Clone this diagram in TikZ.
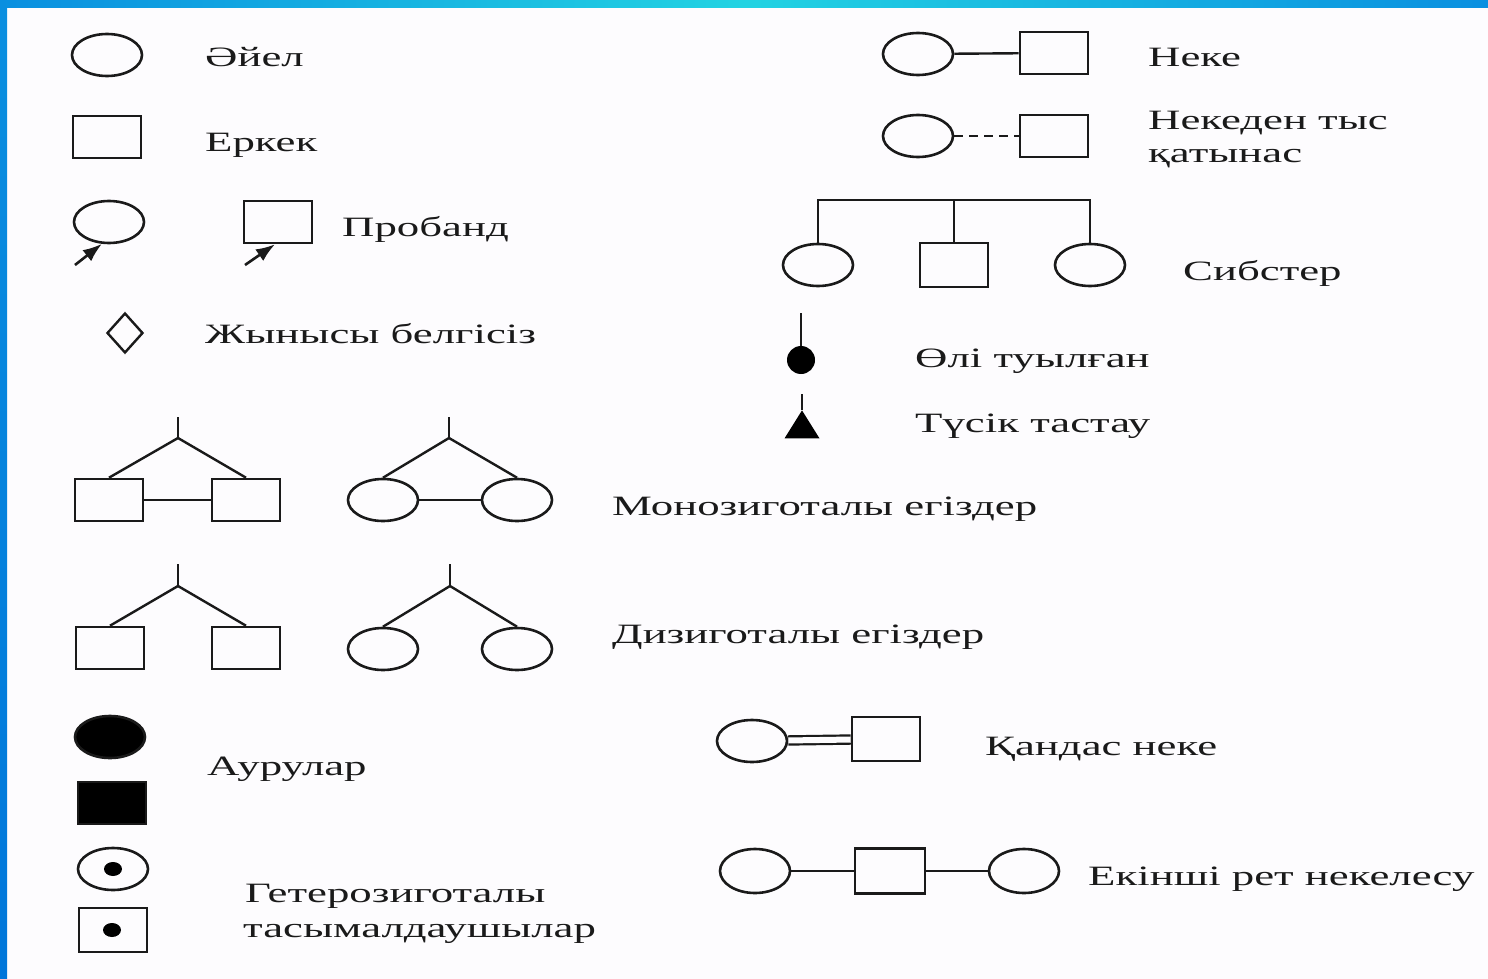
\documentclass[tikz,border=0pt]{standalone}
\usepackage{fontspec}
\setmainfont[FakeStretch=1.6]{Liberation Serif}
\usetikzlibrary{shapes.geometric,arrows.meta}
\definecolor{bandblue}{HTML}{0A8FE0}
\definecolor{bandcyan}{HTML}{22D3E2}
\definecolor{bandlow}{HTML}{0076DA}
\definecolor{paper}{HTML}{FDFCFE}
\definecolor{ink}{HTML}{1A1A1A}
\begin{document}
\begin{tikzpicture}[x=1pt,y=-1pt,
  fem/.style={ellipse,draw=ink,minimum width=70pt,minimum height=42pt,inner sep=0pt,line width=2.6pt},
  mal/.style={rectangle,draw=ink,minimum width=68pt,minimum height=42pt,inner sep=0pt,line width=2.6pt},
  femfill/.style={fem,fill=black},
  malfill/.style={mal,fill=black},
  lbl/.style={anchor=base west,font=\fontsize{28}{32}\selectfont,text=ink,inner sep=0pt},
  probarrow/.style={draw=ink,-{Latex[length=19pt,width=14pt]},line width=2.6pt},
  link/.style={draw=ink,line width=2.4pt},
  carrier/.style={ellipse,fill=black,minimum width=18pt,minimum height=14pt,inner sep=0pt}
]
\useasboundingbox (0,0) rectangle (1488,979);
\fill[paper] (0,0) rectangle (1488,979);
% borders
\shade[top color=bandblue,bottom color=bandlow] (0,0) rectangle (7,979);
\shade[left color=bandblue,right color=bandblue,middle color=bandcyan] (0,0) rectangle (1488,8);

% Left column
\node[fem] (w) at (107,55) {};
\node[lbl] (wl) at (205,67) {Әйел};
\node[mal] (m) at (107,137) {};
\node[lbl] (ml) at (205,152) {Еркек};

\node[fem] (pf) at (109,222) {};
\coordinate (pfa) at (75,265);
\draw[probarrow] (pfa) -- (pf.-108);
\node[mal] (pm) at (278,222) {};
\coordinate (pma) at (245,265);
\draw[probarrow] (pma) -- ([xshift=-3pt]pm.south);
\node[lbl] (pl) at (342,236) {Пробанд};

\node[diamond,draw=ink,line width=2.4pt,minimum width=36pt,minimum height=40pt,inner sep=0pt,aspect=0.9] (u) at (125,333) {};
\node[lbl] (ul) at (205,343) {Жынысы белгісіз};

% Monozygotic twins
\node[mal] (mz1) at (109,500) {};
\node[mal] (mz2) at (246,500) {};
\coordinate (mzs) at (178,417);
\coordinate (mza) at (178,438);
\draw[link] (mzs) -- (mza);
\draw[link] (mza) -- (mz1.north);
\draw[link] (mza) -- (mz2.north);
\draw[link] (mz1) -- (mz2);
\node[fem] (mf1) at (383,500) {};
\node[fem] (mf2) at (517,500) {};
\coordinate (mfs) at (449,417);
\coordinate (mfa) at (449,438);
\draw[link] (mfs) -- (mfa);
\draw[link] (mfa) -- (mf1.north);
\draw[link] (mfa) -- (mf2.north);
\draw[link] (mf1) -- (mf2);
\node[lbl] (mzl) at (612,515) {Монозиготалы егіздер};

% Dizygotic twins
\node[mal] (dz1) at (110,648) {};
\node[mal] (dz2) at (246,648) {};
\coordinate (dzs) at (178,564);
\coordinate (dza) at (178,586);
\draw[link] (dzs) -- (dza);
\draw[link] (dza) -- (dz1.north);
\draw[link] (dza) -- (dz2.north);
\node[fem] (df1) at (383,649) {};
\node[fem] (df2) at (517,649) {};
\coordinate (dfs) at (450,564);
\coordinate (dfa) at (450,586);
\draw[link] (dfs) -- (dfa);
\draw[link] (dfa) -- (df1.north);
\draw[link] (dfa) -- (df2.north);
\node[lbl] (dzl) at (612,643) {Дизиготалы егіздер};

% Affected
\node[femfill] (af) at (110,737) {};
\node[malfill] (am) at (112,803) {};
\node[lbl] (al) at (207,775) {Аурулар};

% Carriers
\node[fem] (cf) at (113,869) {};
\node[carrier] (cfd) at (113,869) {};
\node[mal,minimum height=44pt] (cm) at (113,930) {};
\node[carrier] (cmd) at (112,930) {};
\node[lbl] (cl1) at (245,902) {Гетерозиготалы};
\node[lbl] (cl2) at (243,937) {тасымалдаушылар};

% Right column
\node[fem] (nf) at (918,54) {};
\node[mal] (nm) at (1054,53) {};
\draw[link] (nf) -- (nm);
\node[lbl] (nl) at (1148,67) {Неке};

\node[fem] (tf) at (918,136) {};
\node[mal] (tm) at (1054,136) {};
\draw[link,dash pattern=on 9pt off 6pt] (tf) -- (tm);
\node[lbl] (tl1) at (1148,130) {Некеден тыс};
\node[lbl] (tl2) at (1148,162) {қатынас};

\node[fem] (s1) at (818,265) {};
\node[mal,minimum height=44pt] (s2) at (954,265) {};
\node[fem] (s3) at (1090,265) {};
\coordinate (sbar) at (954,200);
\draw[link] (s1.north) |- (sbar) -| (s3.north);
\draw[link] (s2.north) -- (sbar);
\node[lbl] (sl) at (1183,280) {Сибстер};

\node[circle,fill=black,minimum size=28pt,inner sep=0pt] (sb) at (801,360) {};
\coordinate (sbt) at (801,313);
\draw[link] (sbt) -- (sb);
\node[lbl] (sbl) at (915,367) {Өлі туылған};

\node[isosceles triangle,fill=black,isosceles triangle apex angle=64,shape border rotate=90,minimum height=28pt,inner sep=0pt,anchor=apex] (mc) at (802,410) {};
\coordinate (mct) at (802,394);
\draw[link] (mct) -- (mc.apex);
\node[lbl] (mcl) at (915,432) {Түсік тастау};

\node[fem] (kf) at (752,741) {};
\node[mal,minimum height=44pt] (km) at (886,739) {};
\draw[draw=ink,double=paper,double distance=6pt,line width=2.2pt] (kf) -- (km);
\node[lbl] (kl) at (985,755) {Қандас неке};

\node[fem,minimum height=44pt] (e1) at (755,871) {};
\node[mal,minimum width=70pt,minimum height=45pt] (em) at (890,871) {};
\node[fem,minimum height=44pt] (e2) at (1024,871) {};
\draw[link] (e1) -- (em);
\draw[link] (em) -- (e2);
\node[lbl] (el) at (1088,885) {Екінші рет некелесу};
\end{tikzpicture}
\end{document}
